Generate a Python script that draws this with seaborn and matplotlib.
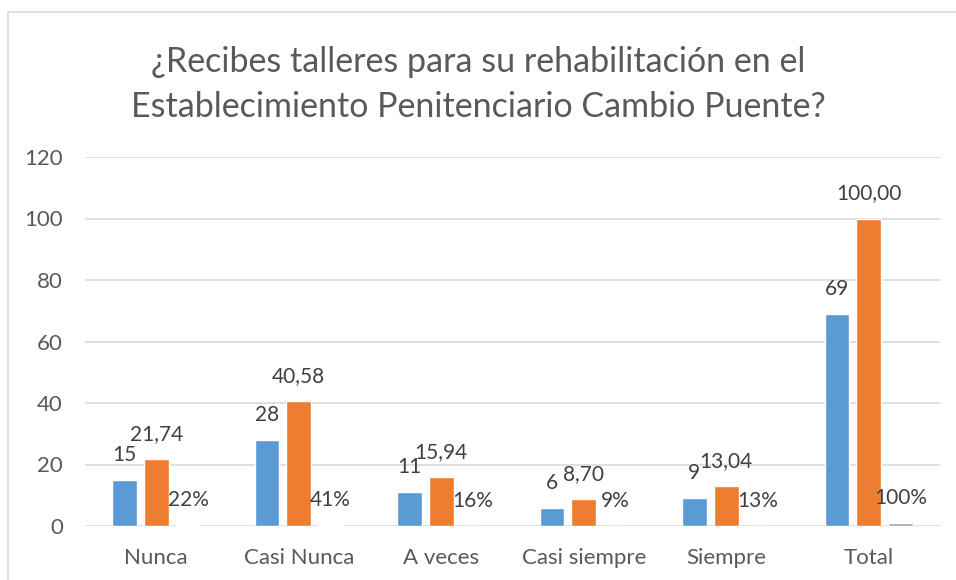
import pandas as pd
import matplotlib.pyplot as plt
import matplotlib.patches as patches
import seaborn as sns

# ── Data ──────────────────────────────────────────────────────
categorias = ["Nunca", "Casi Nunca", "A veces", "Casi siempre", "Siempre", "Total"]
frecuencia = [15, 28, 11, 6, 9, 69]
porcentaje = [21.74, 40.58, 15.94, 8.70, 13.04, 100.00]
proporcion = [0.22, 0.41, 0.16, 0.09, 0.13, 1.00]
series = ["Frecuencia", "Porcentaje", "Proporción"]

df = pd.DataFrame({
    "categoria": categorias * 3,
    "valor": frecuencia + porcentaje + proporcion,
    "serie": [s for s in series for _ in categorias],
})

# ── Style ─────────────────────────────────────────────────────
sns.set_style("white")
plt.rcParams["font.family"] = ["Lato", "DejaVu Sans"]
txt_grey = "#595959"
lbl_grey = "#404040"

fig = plt.figure(figsize=(9.56, 5.8), dpi=100)
ax = fig.add_axes([85 / 956, 1 - 526 / 580, 855 / 956, 369 / 580])

sns.barplot(data=df, x="categoria", y="valor", hue="serie",
            palette=["#5B9BD5", "#ED7D31", "#A5A5A5"], saturation=1,
            width=0.67, gap=0.22, legend=False, ax=ax, zorder=3)

ax.set_ylim(0, 120)
ax.set_yticks(range(0, 121, 20))
ax.set_xlim(-0.5, len(categorias) - 0.5)
ax.grid(axis="y", color="#D9D9D9", linewidth=1.2, zorder=0)
ax.set_axisbelow(True)
for s in ax.spines.values():
    s.set_visible(False)
ax.set_xlabel("")
ax.set_ylabel("")
ax.tick_params(axis="both", length=0, labelsize=16, colors=txt_grey)
ax.tick_params(axis="x", pad=16)
ax.tick_params(axis="y", pad=16)

# ── Data labels ───────────────────────────────────────────────
fmts = [lambda v: f"{v:.0f}",
        lambda v: f"{v:.2f}".replace(".", ","),
        lambda v: f"{v * 100:.0f}%"]
for cont, fmt in zip(ax.containers, fmts):
    for bar in cont:
        h = bar.get_height()
        ax.annotate(fmt(h), (bar.get_x() + bar.get_width() / 2, h),
                    xytext=(0, 18), textcoords="offset points",
                    ha="center", va="center", fontsize=15, color=lbl_grey)

# ── Title and frame ───────────────────────────────────────────
fig.text(0.5, 1 - 62 / 580, "¿Recibes talleres para su rehabilitación en el",
         ha="center", va="center", fontsize=24.5, color=txt_grey)
fig.text(0.5, 1 - 107 / 580, "Establecimiento Penitenciario Cambio Puente?",
         ha="center", va="center", fontsize=24.5, color=txt_grey)
fig.patches.append(patches.Rectangle((8 / 956, -0.05), 1.1, 1 - 12 / 580 + 0.05,
                                     transform=fig.transFigure, fill=False,
                                     edgecolor="#D9D9D9", linewidth=1.2))

plt.savefig("out.png", dpi=100)
